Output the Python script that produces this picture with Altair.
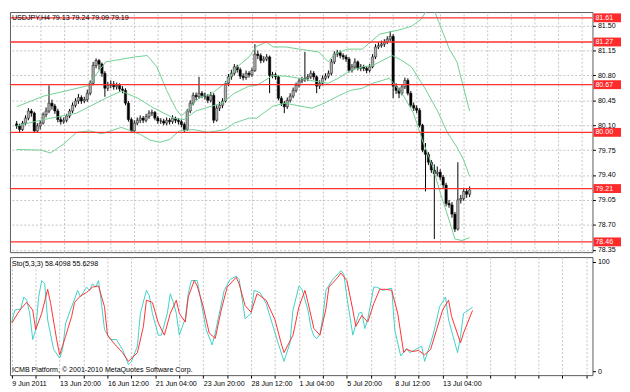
import json
import altair as alt
import pandas as pd

# ---------------- data ----------------
bar_open = [
    80.12, 80.09, 80.04, 80.13, 80.20, 80.30, 80.27, 80.02, 80.09, 80.13,
    80.25, 80.30, 80.41, 80.37, 80.30, 80.18, 80.15, 80.17, 80.23, 80.30,
    80.38, 80.44, 80.49, 80.44, 80.46, 80.55, 80.69, 80.94, 81.01, 80.96,
    80.83, 80.62, 80.66, 80.68, 80.64, 80.66, 80.61, 80.59, 80.41, 80.18,
    80.02, 80.13, 80.17, 80.20, 80.17, 80.22, 80.27, 80.28, 80.20, 80.16,
    80.16, 80.13, 80.17, 80.15, 80.20, 80.17, 80.15, 80.11, 80.04, 80.30,
    80.41, 80.52, 80.50, 80.55, 80.52, 80.50, 80.45, 80.52, 80.17, 80.34,
    80.38, 80.44, 80.69, 80.78, 80.83, 80.92, 80.88, 80.79, 80.77, 80.83,
    80.81, 80.87, 81.10, 81.08, 81.01, 81.03, 81.06, 80.80, 80.81, 80.78,
    80.48, 80.41, 80.36, 80.45, 80.51, 80.59, 80.66, 80.72, 80.74, 80.76,
    80.78, 80.83, 80.78, 80.65, 80.69, 80.76, 80.79, 80.83, 80.99, 81.10,
    81.12, 81.08, 81.06, 81.03, 80.87, 80.92, 80.99, 80.90, 80.92, 80.90,
    80.87, 80.92, 81.06, 81.20, 81.22, 81.24, 81.27, 81.31, 81.35, 80.65,
    80.59, 80.55, 80.64, 80.73, 80.55, 80.38, 80.34, 80.31, 80.10, 79.75,
    79.69, 79.58, 79.47, 79.42, 79.44, 79.37, 79.26, 79.00, 78.98, 78.85,
    78.64, 79.05, 79.07, 79.17, 79.13]
bar_high = [
    80.16, 80.12, 80.16, 80.24, 80.34, 80.33, 80.29, 80.13, 80.17, 80.28,
    80.35, 80.66, 80.46, 80.40, 80.33, 80.22, 80.21, 80.26, 80.33, 80.42,
    80.48, 80.54, 80.52, 80.50, 80.60, 80.73, 80.99, 81.04, 81.03, 80.98,
    80.86, 80.71, 80.73, 80.72, 80.70, 80.69, 80.65, 80.62, 80.44, 80.21,
    80.17, 80.21, 80.24, 80.23, 80.26, 80.31, 80.32, 80.30, 80.23, 80.20,
    80.19, 80.21, 80.20, 80.24, 80.22, 80.20, 80.18, 80.14, 80.33, 80.45,
    80.56, 80.56, 80.78, 80.58, 80.56, 80.54, 80.57, 80.55, 80.38, 80.43,
    80.48, 80.72, 80.82, 80.88, 80.96, 80.95, 80.91, 80.83, 80.87, 80.86,
    80.91, 81.24, 81.15, 81.11, 81.07, 81.10, 81.08, 80.85, 80.84, 80.80,
    80.51, 80.44, 80.49, 80.55, 80.63, 80.70, 80.76, 80.78, 81.13, 80.82,
    80.87, 80.86, 80.80, 80.73, 80.80, 80.83, 80.87, 81.03, 81.14, 81.16,
    81.15, 81.11, 81.09, 81.06, 80.96, 81.04, 81.01, 80.96, 80.95, 80.93,
    80.96, 81.10, 81.24, 81.27, 81.29, 81.31, 81.35, 81.42, 81.38, 80.69,
    80.63, 80.68, 80.77, 80.76, 80.58, 80.42, 80.38, 80.34, 80.12, 79.85,
    79.72, 79.61, 79.55, 79.52, 79.48, 79.40, 79.29, 79.05, 79.02, 78.88,
    79.58, 79.12, 79.22, 79.21, 79.24]
bar_low = [
    80.05, 80.00, 80.02, 80.10, 80.17, 80.22, 79.99, 80.00, 80.04, 80.11,
    80.21, 80.27, 80.32, 80.26, 80.14, 80.11, 80.12, 80.14, 80.20, 80.27,
    80.35, 80.40, 80.40, 80.41, 80.43, 80.52, 80.66, 80.90, 80.88, 80.78,
    80.50, 80.58, 80.62, 80.60, 80.60, 80.57, 80.55, 80.38, 80.15, 79.99,
    80.00, 80.10, 80.13, 80.13, 80.14, 80.19, 80.23, 80.17, 80.12, 80.12,
    80.10, 80.10, 80.11, 80.12, 80.13, 80.11, 80.07, 80.00, 80.02, 80.27,
    80.38, 80.45, 80.47, 80.48, 80.46, 80.41, 80.42, 80.13, 80.15, 80.30,
    80.34, 80.42, 80.65, 80.74, 80.80, 80.84, 80.75, 80.73, 80.74, 80.77,
    80.78, 80.85, 81.03, 80.97, 80.98, 81.00, 80.55, 80.76, 80.74, 80.45,
    80.37, 80.27, 80.33, 80.42, 80.48, 80.56, 80.63, 80.69, 80.71, 80.72,
    80.75, 80.74, 80.55, 80.61, 80.66, 80.73, 80.76, 80.80, 80.96, 81.06,
    81.04, 81.02, 80.99, 80.84, 80.84, 80.89, 80.87, 80.86, 80.86, 80.83,
    80.84, 80.90, 81.03, 81.17, 81.19, 81.20, 81.24, 81.28, 80.48, 80.54,
    80.48, 80.52, 80.61, 80.52, 80.35, 80.30, 80.27, 80.07, 79.72, 79.17,
    79.54, 79.43, 78.50, 79.38, 79.33, 79.22, 78.96, 78.94, 78.80, 78.60,
    78.62, 79.00, 79.04, 79.08, 79.09]
bar_close = [
    80.09, 80.04, 80.13, 80.20, 80.30, 80.27, 80.02, 80.09, 80.13, 80.25,
    80.30, 80.41, 80.37, 80.30, 80.18, 80.15, 80.17, 80.23, 80.30, 80.38,
    80.44, 80.49, 80.44, 80.46, 80.55, 80.69, 80.94, 81.01, 80.96, 80.83,
    80.62, 80.66, 80.68, 80.64, 80.66, 80.61, 80.59, 80.41, 80.18, 80.02,
    80.13, 80.17, 80.20, 80.17, 80.22, 80.27, 80.28, 80.20, 80.16, 80.16,
    80.13, 80.17, 80.15, 80.20, 80.17, 80.15, 80.11, 80.04, 80.30, 80.41,
    80.52, 80.50, 80.55, 80.52, 80.50, 80.45, 80.52, 80.17, 80.34, 80.38,
    80.44, 80.69, 80.78, 80.83, 80.92, 80.88, 80.79, 80.77, 80.83, 80.81,
    80.87, 81.10, 81.08, 81.01, 81.03, 81.06, 80.80, 80.81, 80.78, 80.48,
    80.41, 80.36, 80.45, 80.51, 80.59, 80.66, 80.72, 80.74, 80.76, 80.78,
    80.83, 80.78, 80.65, 80.69, 80.76, 80.79, 80.83, 80.99, 81.10, 81.12,
    81.08, 81.06, 81.03, 80.87, 80.92, 80.99, 80.90, 80.92, 80.90, 80.87,
    80.92, 81.06, 81.20, 81.22, 81.24, 81.27, 81.31, 81.35, 80.65, 80.59,
    80.55, 80.64, 80.73, 80.55, 80.38, 80.34, 80.31, 80.10, 79.75, 79.69,
    79.58, 79.47, 79.42, 79.44, 79.37, 79.26, 79.00, 78.98, 78.85, 78.64,
    79.05, 79.07, 79.17, 79.13, 79.19]

upper_bar = [0, 9.2, 24.7, 27.3, 30.3, 40.2, 44.4, 47.7, 51, 54.3, 56, 58.3, 61.9,
             66.5, 70.8, 75, 79, 81.6, 84.9, 87.2, 91.5, 96.1, 102.7, 106, 108,
             112.5, 117.5, 123.4, 130, 134.2, 137.5, 139.2, 140.5, 142.1, 144.1,
             147.1, 149.7, 152, 154]
upper_val = [80.36, 80.51, 80.66, 80.83, 80.99, 81.06, 81.08, 80.92, 80.59, 80.32,
             80.23, 80.32, 80.48, 80.55, 80.69, 80.92, 81.06, 81.21, 81.27, 81.20,
             81.20, 81.17, 81.13, 80.99, 81.10, 81.17, 81.17, 81.38, 81.44, 81.49,
             81.59, 81.70, 81.84, 81.70, 81.49, 81.17, 80.99, 80.62, 80.30]
mid_bar = [0, 9.2, 20.4, 30.3, 35.6, 41.2, 46.7, 53.3, 56.9, 60.9, 66.5, 69.8, 74,
           79, 81.6, 87.2, 91.5, 96.1, 101.3, 105.9, 109.3, 113.5, 117.5, 121.1,
           126.7, 127.7, 131, 134.2, 138.8, 143.1, 146.4, 149.7, 152, 154]
mid_val = [80.09, 80.18, 80.27, 80.48, 80.58, 80.48, 80.34, 80.20, 80.18, 80.30,
           80.37, 80.41, 80.55, 80.65, 80.66, 80.80, 80.79, 80.76, 80.72, 80.69,
           80.76, 80.87, 80.92, 80.94, 81.06, 81.08, 81.01, 80.92, 80.62, 80.30,
           80.00, 79.79, 79.61, 79.38]
lower_bar = [0, 8.3, 11.5, 15.8, 20.4, 24.7, 29, 35.6, 42.1, 45.4, 48.7, 52, 55.3,
             59.9, 65.2, 70.8, 74, 79, 81.6, 87.2, 91.5, 96.1, 100.4, 104.6, 109.3,
             113.5, 117.5, 121.1, 126.7, 131.6, 134.9, 138.2, 141.5, 144.1, 147.4,
             149, 151.4, 154]
lower_val = [79.76, 79.75, 79.71, 79.83, 80.00, 80.02, 79.98, 80.07, 79.97, 79.89,
             79.86, 79.90, 80.02, 80.04, 80.00, 80.04, 80.13, 80.20, 80.20, 80.37,
             80.41, 80.37, 80.34, 80.41, 80.51, 80.59, 80.62, 80.69, 80.76, 80.51,
             80.27, 79.86, 79.51, 79.14, 78.72, 78.50, 78.48, 78.52]

k_bar = [0, 1, 3, 4, 5, 6, 7, 8, 9, 10, 11, 12, 14, 16, 17, 18, 20, 21, 22, 23,
         25, 26, 27, 28, 29, 30, 31, 33, 35, 37, 39, 40, 42, 43, 45, 46, 47, 49, 50, 52,
         53, 54, 55, 56, 58, 59, 60, 62, 63, 65, 67, 68, 71, 73, 75, 76, 78, 80, 81, 83,
         85, 87, 89, 91, 93, 94, 96, 97, 99, 100, 101, 102, 103, 104, 105, 107, 109, 110,
         111, 112, 114, 116, 117, 118, 119, 121, 122, 124, 127, 128, 130, 132, 133, 135,
         137, 138, 140, 141, 143, 145, 146, 149, 150, 151, 154]
k_val = [45, 56, 57, 68, 65, 53, 29, 38, 68, 83, 80, 47, 20, 12, 20, 44, 59, 66, 74, 68,
         77, 74, 80, 77, 83, 62, 38, 29, 29, 20, 6, 9, 23, 53, 74, 69, 53, 33, 33, 53,
         71, 63, 53, 33, 48, 71, 83, 83, 68, 38, 24, 35, 74, 84, 87, 84, 48, 53, 74, 72,
         62, 44, 26, 9, 26, 56, 78, 75, 56, 40, 32, 30, 34, 50, 74, 83, 89, 92,
         89, 68, 33, 53, 54, 39, 48, 77, 77, 74, 76, 38, 14, 21, 17, 20,
         23, 9, 26, 35, 59, 68, 47, 17, 32, 53, 58.41]
d_bar = [0, 2, 3, 5, 7, 8, 10, 12, 13, 15, 16, 18, 20, 21, 23, 25, 27, 29, 31, 32,
         34, 37, 39, 42, 44, 45, 47, 49, 51, 53, 55, 56, 58, 59, 61, 62, 64, 66, 68, 70,
         72, 75, 76, 78, 80, 82, 85, 88, 90, 91, 94, 96, 98, 99, 101, 103, 105, 106, 109,
         110, 112, 114, 115, 117, 119, 121, 123, 125, 127, 129, 131, 132, 134, 136, 138,
         140, 142, 144, 146, 147, 150, 151, 154]
d_val = [44, 53, 57, 63, 56, 38, 53, 75, 62, 29, 15, 32, 50, 63, 69, 72, 77, 78, 59, 33,
         26, 17, 9, 17, 41, 65, 63, 44, 33, 53, 65, 53, 45, 68, 83, 78, 59, 35, 30, 56,
         77, 86, 80, 60, 54, 71, 65, 47, 26, 17, 33, 59, 74, 63, 39, 33, 57, 77, 86,
         90, 83, 56, 41, 51, 45, 62, 75, 75, 74, 53, 17, 20, 18, 19, 15,
         20, 38, 56, 65, 50, 26, 35, 55.63]

price_ticks = [78.35, 78.70, 79.05, 79.40, 79.75, 80.10, 80.45, 80.80, 81.15, 81.50]
level_values = [81.61, 81.27, 80.67, 80.00, 79.21, 78.46]
time_labels = ["9 Jun 2011", "13 Jun 20:00", "16 Jun 12:00", "21 Jun 04:00",
               "23 Jun 20:00", "28 Jun 12:00", "1 Jul 04:00", "5 Jul 20:00",
               "8 Jul 12:00", "13 Jul 04:00"]
grid_bars = list(range(0, 193, 8))
header = "USDJPY,H4  79.13 79.24 79.09 79.19"
sto_title = "Sto(5,3,3) 58.4098 55.6298"
footer = "ICMB Platform, \u00a9 2001-2010 MetaQuotes Software Corp."

# ---------------- styling ----------------
W, H_MAIN, H_STO = 592, 244, 120
FONT, FS = "Liberation Sans", 7.2
GRID = "#c4c4c4"

candles = pd.DataFrame({"bar": list(range(len(bar_close))), "open": bar_open,
                        "high": bar_high, "low": bar_low, "close": bar_close})
bands = pd.concat([
    pd.DataFrame({"bar": upper_bar, "val": upper_val, "band": "upper"}),
    pd.DataFrame({"bar": mid_bar, "val": mid_val, "band": "middle"}),
    pd.DataFrame({"bar": lower_bar, "val": lower_val, "band": "lower"}),
])
sto = pd.concat([
    pd.DataFrame({"bar": k_bar, "val": k_val, "line": "main"}),
    pd.DataFrame({"bar": d_bar, "val": d_val, "line": "signal"}),
])
levels = pd.DataFrame({"level": level_values})

xs = alt.Scale(domain=[-0.6, 194.1], nice=False, zero=False)
ys = alt.Scale(domain=[78.316, 81.691], nice=False, zero=False)
ss = alt.Scale(domain=[-3.6, 104.5], nice=False, zero=False)

x_main_axis = alt.Axis(orient="top", values=grid_bars[1:], labels=False, ticks=False,
                       domain=False, grid=True, gridDash=[2, 2], gridColor=GRID, title=None)
y_main_axis = alt.Axis(orient="right", values=price_ticks, format=".2f", grid=True,
                       gridDash=[2, 2], gridColor=GRID, domain=False, tickSize=3,
                       tickColor="black", labelFont=FONT, labelFontSize=FS,
                       labelColor="black", labelPadding=2, title=None)

X_MAIN = alt.X("bar:Q", scale=xs, axis=x_main_axis)

base_c = alt.Chart(candles).transform_calculate(
    dir="datum.close >= datum.open ? 'up' : 'down'")
wicks = base_c.mark_rule(color="black", strokeWidth=1).encode(
    x=X_MAIN,
    y=alt.Y("low:Q", scale=ys, axis=y_main_axis),
    y2="high:Q")
bodies = base_c.mark_bar(size=2.4, stroke="#111111", strokeWidth=0.5).encode(
    x=X_MAIN,
    y=alt.Y("open:Q", scale=ys, axis=y_main_axis),
    y2="close:Q",
    color=alt.Color("dir:N", scale=alt.Scale(domain=["up", "down"],
                                             range=["#b0b0b0", "#000000"]), legend=None))
band_lines = alt.Chart(bands).mark_line(color="#6fcf92", strokeWidth=1, clip=True).encode(
    x=X_MAIN,
    y=alt.Y("val:Q", scale=ys, axis=y_main_axis),
    detail="band:N")
level_lines = alt.Chart(levels).mark_rule(color="#ff3030", strokeWidth=1.3).encode(
    y=alt.Y("level:Q", scale=ys, axis=y_main_axis))
level_boxes = alt.Chart(levels).mark_rect(color="#ff2a2a", yOffset=-4.5, y2Offset=4.5).encode(
    y=alt.Y("level:Q", scale=ys, axis=y_main_axis), y2="level:Q",
    x=alt.value(W + 1), x2=alt.value(W + 29))
level_text = alt.Chart(levels).mark_text(align="left", baseline="middle", color="white",
                                         font=FONT, fontSize=FS).encode(
    x=alt.value(W + 3), y=alt.Y("level:Q", scale=ys, axis=y_main_axis),
    text=alt.Text("level:Q", format=".2f"))
hdr = alt.Chart(pd.DataFrame({"t": [header]})).mark_text(
    align="left", baseline="middle", font=FONT, fontSize=FS, color="black").encode(
    x=alt.value(2), y=alt.value(6), text="t:N")

main = alt.layer(wicks, bodies, band_lines, level_lines, level_boxes, level_text, hdr
                 ).properties(width=W, height=H_MAIN)

label_expr = ("datum.value % 16 == 0 ? " + json.dumps(time_labels) +
              "[datum.value / 16] : ''")
sto_lines = alt.Chart(sto).mark_line(strokeWidth=1).encode(
    x=alt.X("bar:Q", scale=xs, axis=alt.Axis(
        values=grid_bars, grid=True, gridDash=[2, 2], gridColor=GRID, domain=False,
        tickSize=3, tickColor="black", labelExpr=label_expr, labelAlign="left",
        labelFont=FONT, labelFontSize=FS, labelColor="black", labelPadding=2,
        labelOverlap=False, labelFlush=False, title=None)),
    y=alt.Y("val:Q", scale=ss, axis=alt.Axis(
        orient="right", values=[0, 100], grid=False, domain=False, tickSize=3,
        tickColor="black", labelFont=FONT, labelFontSize=FS, labelColor="black",
        labelPadding=2, title=None)),
    color=alt.Color("line:N", scale=alt.Scale(domain=["main", "signal"],
                                              range=["#3fd0c6", "#ff3030"]), legend=None))
sto_hdr = alt.Chart(pd.DataFrame({"t": [sto_title]})).mark_text(
    align="left", baseline="middle", font=FONT, fontSize=FS, color="black").encode(
    x=alt.value(2), y=alt.value(7), text="t:N")
sto_foot = alt.Chart(pd.DataFrame({"t": [footer]})).mark_text(
    align="left", baseline="middle", font=FONT, fontSize=FS, color="black").encode(
    x=alt.value(2), y=alt.value(115), text="t:N")

stoch = alt.layer(sto_lines, sto_hdr, sto_foot).properties(width=W, height=H_STO)

chart = alt.vconcat(main, stoch, spacing=2, padding=0, background="white"
                    ).resolve_scale(color="independent", x="independent", y="independent"
                    ).configure_view(stroke="#5a5a5a", strokeWidth=1)

chart.save("out.html", embed_options={"renderer": "svg", "actions": False})
